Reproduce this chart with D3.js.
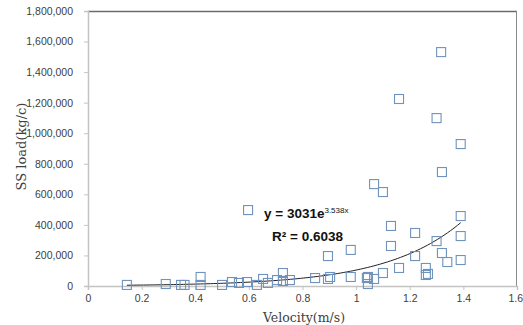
<!DOCTYPE html>
<html>
<head>
<meta charset="utf-8">
<script src="https://cdn.jsdelivr.net/npm/d3@7"></script>
<style>
  body { margin: 0; background: #fff; }
  svg { display: block; }
</style>
</head>
<body>
<svg id="chart" width="523" height="325"></svg>
<script>
// velocity (m/s)
const velocity = [
    0.145, 0.29, 0.347, 0.36, 0.42, 0.42, 0.50, 0.537, 0.563, 0.593,
    0.597, 0.63, 0.653, 0.671, 0.705, 0.727, 0.727, 0.753, 0.847, 0.895,
    0.895, 0.903, 0.98, 0.98, 1.04, 1.044, 1.044, 1.067, 1.067, 1.10,
    1.10, 1.13, 1.13, 1.16, 1.16, 1.22, 1.22, 1.26, 1.26, 1.268,
    1.30, 1.30, 1.317, 1.32, 1.32, 1.34, 1.39, 1.39, 1.39, 1.39
];
// SS load (kg/c)
const ssLoad = [
    7000, 13000, 7000, 7000, 7000, 59000, 7000, 26000, 20000, 26000,
    497000, 7000, 46000, 20000, 39000, 85000, 33000, 39000, 52000, 196000,
    46000, 59000, 236000, 59000, 52000, 59000, 13000, 46000, 667000, 85000,
    615000, 393000, 262000, 1224000, 118000, 347000, 196000, 118000, 72000, 79000,
    1099000, 294000, 1531000, 746000, 216000, 157000, 929000, 458000, 327000, 170000
];
const xTicks = [0, 0.2, 0.4, 0.6, 0.8, 1, 1.2, 1.4, 1.6];
const yTicks = [0, 200000, 400000, 600000, 800000, 1000000, 1200000, 1400000, 1600000, 1800000];
const trendA = 3031;
const trendB = 3.538;
const rSquared = 0.6038;

const svg = d3.select('#chart');
const plot = { left: 88, right: 517, top: 11, bottom: 286 };

const x = d3.scaleLinear().domain([0, 1.6]).range([plot.left, plot.right]);
const y = d3.scaleLinear().domain([0, 1800000]).range([plot.bottom, plot.top]);

const tickFont = '"Liberation Sans", Arial, sans-serif';
const titleFont = '"DejaVu Serif", "Liberation Serif", serif';

// frame: top and right borders darker
svg.append('line')
    .attr('x1', plot.left).attr('x2', plot.right)
    .attr('y1', plot.top + 0.5).attr('y2', plot.top + 0.5)
    .attr('stroke', '#6b6b6b').attr('stroke-width', 1.5);
svg.append('line')
    .attr('x1', plot.right - 0.5).attr('x2', plot.right - 0.5)
    .attr('y1', plot.top).attr('y2', plot.bottom)
    .attr('stroke', '#8a8a8a').attr('stroke-width', 1);

// axes
const xAxis = svg.append('g')
    .attr('transform', `translate(0,${plot.bottom})`)
    .call(d3.axisBottom(x).tickValues(xTicks).tickSize(4).tickPadding(6)
        .tickFormat(d => d3.format('~g')(d)));
const yAxis = svg.append('g')
    .attr('transform', `translate(${plot.left},0)`)
    .call(d3.axisLeft(y).tickValues(yTicks).tickSize(4).tickPadding(11)
        .tickFormat(d3.format(',')));

[xAxis, yAxis].forEach(g => {
    g.select('.domain').attr('stroke', '#c4c4c4').attr('stroke-width', 1.5);
    g.selectAll('.tick line').attr('stroke', '#c4c4c4');
    g.selectAll('.tick text')
        .attr('fill', '#404040')
        .style('font-family', tickFont)
        .style('font-size', '10.5px');
});
xAxis.selectAll('.tick text').attr('dy', '0.6em');
// last label sits against the right edge
xAxis.selectAll('.tick').filter(d => d === 1.6).select('text')
    .attr('text-anchor', 'end').attr('dx', '5.5');

// trendline y = a*e^(bx)
const xMin = d3.min(velocity), xMax = d3.max(velocity);
const trend = d3.range(0, 101).map(i => {
    const v = xMin + (xMax - xMin) * i / 100;
    return [v, trendA * Math.exp(trendB * v)];
});
svg.append('path')
    .datum(trend)
    .attr('fill', 'none')
    .attr('stroke', '#222')
    .attr('stroke-width', 1)
    .attr('d', d3.line().x(d => x(d[0])).y(d => y(d[1])));

// points
const pts = velocity.map((v, i) => [v, ssLoad[i]]);
svg.selectAll('rect.pt')
    .data(pts)
    .join('rect')
    .attr('class', 'pt')
    .attr('x', d => x(d[0]) - 4.5)
    .attr('y', d => y(d[1]) - 4.5)
    .attr('width', 9)
    .attr('height', 9)
    .attr('fill', 'none')
    .attr('stroke', '#6f93bd')
    .attr('stroke-width', 1.1);

// equation labels
const eq = svg.append('text')
    .attr('x', 264).attr('y', 218)
    .style('font-family', '"Liberation Sans", Arial, sans-serif')
    .style('font-weight', 'bold')
    .style('font-size', '13.5px')
    .attr('fill', '#111');
eq.append('tspan').text(`y = ${trendA}e`);
eq.append('tspan').attr('dy', -5).style('font-size', '8px').style('font-weight', 'normal').text(`${trendB}x`);

svg.append('text')
    .attr('x', 272).attr('y', 241)
    .style('font-family', '"Liberation Sans", Arial, sans-serif')
    .style('font-weight', 'bold')
    .style('font-size', '13.5px')
    .attr('fill', '#111')
    .text(`R² = ${rSquared}`);

// axis titles
svg.append('text')
    .attr('transform', `translate(21,${(plot.top + plot.bottom) / 2 - 2}) rotate(-90)`)
    .attr('dy', '0.35em')
    .attr('text-anchor', 'middle')
    .style('font-family', titleFont)
    .style('font-size', '13px')
    .attr('fill', '#404040')
    .text('SS load(kg/c)');

svg.append('text')
    .attr('x', 304).attr('y', 322)
    .attr('text-anchor', 'middle')
    .style('font-family', titleFont)
    .style('font-size', '12.5px')
    .attr('fill', '#404040')
    .text('Velocity(m/s)');
</script>
</body>
</html>
